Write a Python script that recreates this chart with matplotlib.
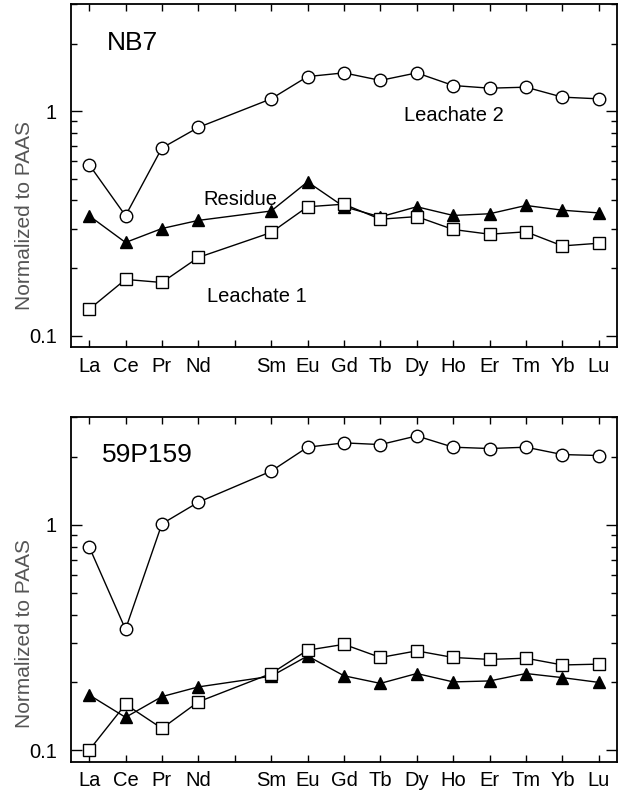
import matplotlib
matplotlib.use('Agg')
import matplotlib.pyplot as plt
from matplotlib.ticker import NullFormatter

plt.rcParams['font.family'] = ['Liberation Sans', 'DejaVu Sans']

# REE positions (Pm left blank)
elements = ['La', 'Ce', 'Pr', 'Nd', '', 'Sm', 'Eu', 'Gd', 'Tb', 'Dy', 'Ho', 'Er', 'Tm', 'Yb', 'Lu']
pos = [0, 1, 2, 3, 5, 6, 7, 8, 9, 10, 11, 12, 13, 14]

# NB7
nb7_leach2 = [0.578, 0.342, 0.685, 0.846, 1.134, 1.425, 1.48, 1.37, 1.48, 1.30, 1.265, 1.278, 1.154, 1.134]
nb7_residue = [0.342, 0.26, 0.30, 0.326, 0.359, 0.484, 0.375, 0.338, 0.375, 0.343, 0.349, 0.38, 0.362, 0.352]
nb7_leach1 = [0.131, 0.178, 0.1725, 0.223, 0.288, 0.375, 0.385, 0.330, 0.339, 0.297, 0.283, 0.290, 0.251, 0.258]

# 59P159
p159_leach2 = [0.80, 0.344, 1.01, 1.26, 1.73, 2.21, 2.31, 2.27, 2.48, 2.21, 2.18, 2.21, 2.05, 2.03]
p159_residue = [0.176, 0.14, 0.173, 0.191, 0.213, 0.262, 0.214, 0.198, 0.219, 0.201, 0.203, 0.219, 0.210, 0.200]
p159_leach1 = [0.10, 0.160, 0.125, 0.164, 0.219, 0.278, 0.295, 0.258, 0.276, 0.258, 0.253, 0.256, 0.239, 0.241]


def setup_axes(ax):
    ax.set_yscale('log')
    ax.set_xlim(-0.5, 14.5)
    ax.set_ylim(0.089, 2.98)
    ax.set_xticks(range(15))
    ax.set_xticklabels(elements, fontsize=14.5)
    ax.tick_params(axis='x', direction='in', top=True, length=5, width=1, pad=7)
    ax.set_yticks([0.1, 1])
    ax.set_yticklabels(['0.1', '1'], fontsize=14.5)
    ax.set_yticks([0.2, 0.3, 0.4, 0.5, 0.6, 0.7, 0.8, 0.9, 2, 3], minor=True)
    ax.yaxis.set_minor_formatter(NullFormatter())
    ax.tick_params(axis='y', which='major', direction='in', length=8, width=1, right=True, pad=10)
    ax.tick_params(axis='y', which='minor', direction='in', length=4.5, width=1, right=True)
    for s in ax.spines.values():
        s.set_linewidth(1.3)


def draw(ax, leach2, residue, leach1):
    ax.plot(pos, leach2, '-o', color='black', mfc='white', mec='black', ms=9, lw=1, mew=1)
    ax.plot(pos, residue, '-^', color='black', mfc='black', ms=8, lw=1)
    ax.plot(pos, leach1, '-s', color='black', mfc='white', mec='black', ms=8.5, lw=1, mew=1)


fig = plt.figure(figsize=(6.22, 7.93), dpi=100)
ax1 = fig.add_axes([0.114, 0.5624, 0.878, 0.4326])
ax3 = fig.add_axes([0.114, 0.0395, 0.878, 0.4343])

draw(ax1, nb7_leach2, nb7_residue, nb7_leach1)
setup_axes(ax1)
ax1.text(0.066, 0.886, 'NB7', transform=ax1.transAxes, fontsize=19, va='center')
ax1.text(3.14, 0.402, 'Residue', fontsize=14.5, va='center')
ax1.text(3.25, 0.149, 'Leachate 1', fontsize=14.5, va='center')
ax1.text(8.64, 0.957, 'Leachate 2', fontsize=14.5, va='center')

draw(ax3, p159_leach2, p159_residue, p159_leach1)
setup_axes(ax3)
ax3.text(0.057, 0.89, '59P159', transform=ax3.transAxes, fontsize=19, va='center')

# y labels sit below the axes centre in the original
fig.text(25 / 622, 1 - 216 / 793, 'Normalized to PAAS', rotation=90, fontsize=15,
         color='#555555', ha='center', va='center')
fig.text(25 / 622, 1 - 633 / 793, 'Normalized to PAAS', rotation=90, fontsize=15,
         color='#555555', ha='center', va='center')

fig.savefig('out.png', dpi=100)
